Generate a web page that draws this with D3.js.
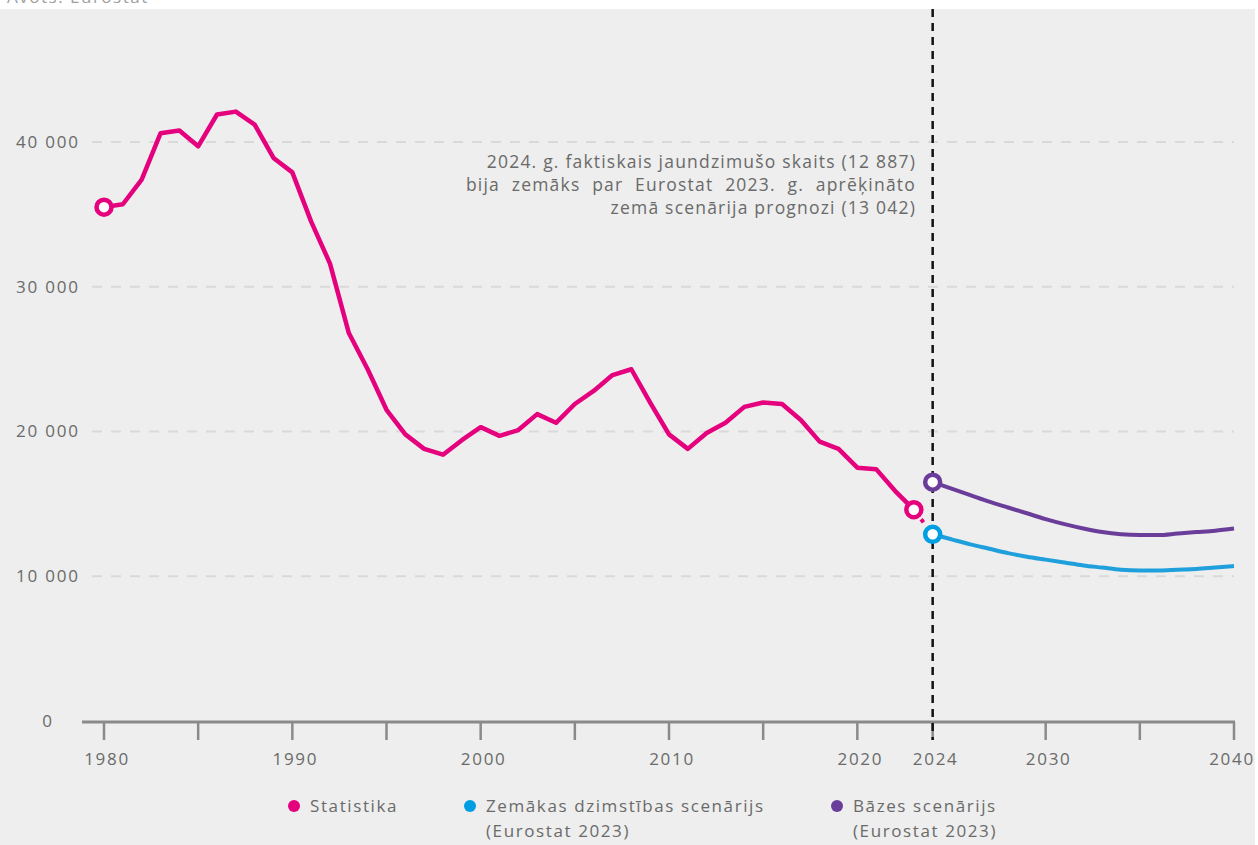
<!DOCTYPE html>
<html>
<head>
<meta charset="utf-8">
<script src="https://cdn.jsdelivr.net/npm/d3@7"></script>
<style>
  body { margin: 0; background: #fff; }
  svg { display: block; font-family: "Open Sans", sans-serif; }
</style>
</head>
<body>
<div id="chart"></div>
<script>
// Statistika 1980-2023
const statYears = d3.range(1980, 2024);
const statValues = [
    35500, 35700, 37400, 40600, 40800, 39700, 41900, 42100, 41200, 38900,
    37900, 34500, 31600, 26800, 24300, 21500, 19800, 18800, 18400, 19400,
    20300, 19700, 20100, 21200, 20600, 21900, 22800, 23900, 24300, 22000,
    19800, 18800, 19900, 20600, 21700, 22000, 21900, 20800, 19300, 18800,
    17500, 17400, 15900, 14600
];
const actual2024 = 12887;

// Eurostat 2023 projections, 2024-2040
const projYears = d3.range(2024, 2041);
const lowValues = [
    12900, 12550, 12200, 11900, 11600, 11350, 11150, 10950, 10750, 10600,
    10450, 10400, 10400, 10450, 10500, 10600, 10700
];
const baseValues = [
    16500, 16050, 15600, 15150, 14750, 14350, 13950, 13600, 13300, 13050,
    12900, 12850, 12850, 12950, 13050, 13150, 13300
];

const yTicks = [0, 10000, 20000, 30000, 40000];
const xTicks = [1980, 1985, 1990, 1995, 2000, 2005, 2010, 2015, 2020, 2024, 2030, 2035, 2040];
const xLabels = [1980, 1990, 2000, 2010, 2020, 2024, 2030, 2040];

const noteLines = [
    '2024. g. faktiskais jaundzimušo skaits (12 887)',
    'bija zemāks par Eurostat 2023. g. aprēķināto',
    'zemā scenārija prognozi (13 042)'
];

const legendItems = [
    { label: ['Statistika'], color: '#e5007d' },
    { label: ['Zemākas dzimstības scenārijs', '(Eurostat 2023)'], color: '#009fe3' },
    { label: ['Bāzes scenārijs', '(Eurostat 2023)'], color: '#6b3d9a' }
];

const width = 1258, height = 845;
const pink = '#e5007d', blue = '#1f9fdb', purple = '#6b3d9a';
const textGray = '#6a6a6a';

const svg = d3.select('#chart').append('svg')
    .attr('width', width)
    .attr('height', height);

// background panel
svg.append('rect')
    .attr('x', 0).attr('y', 9)
    .attr('width', 1255).attr('height', height - 9)
    .attr('fill', '#edeeed');

svg.append('text')
    .attr('x', 7).attr('y', 3)
    .attr('font-size', 17)
    .attr('letter-spacing', 1.5)
    .attr('fill', '#a0a0a0')
    .text('Avots: Eurostat');

const x = d3.scaleLinear().domain([1980, 2040]).range([104, 1234]);
const y = d3.scaleLinear().domain([0, 40000]).range([721, 142]);

// gridlines
svg.append('g')
    .selectAll('line')
    .data(yTicks.filter(d => d > 0))
    .join('line')
    .attr('x1', 92).attr('x2', 1234)
    .attr('y1', d => y(d)).attr('y2', d => y(d))
    .attr('stroke', '#d9d9d9')
    .attr('stroke-width', 2)
    .attr('stroke-dasharray', '10,9');

// y labels
svg.append('g')
    .selectAll('text')
    .data(yTicks)
    .join('text')
    .attr('x', 48)
    .attr('y', d => y(d))
    .attr('dy', '0.35em')
    .attr('text-anchor', 'middle')
    .attr('font-size', 17)
    .attr('letter-spacing', 1.8)
    .attr('fill', textGray)
    .text(d => d === 0 ? '0' : d3.format(',')(d).replace(',', ' '));

// x axis
const xAxis = svg.append('g');
xAxis.append('line')
    .attr('x1', 82).attr('x2', 1235)
    .attr('y1', 722).attr('y2', 722)
    .attr('stroke', '#8a8a8a')
    .attr('stroke-width', 3);
xAxis.selectAll('.tick')
    .data(xTicks)
    .join('line')
    .attr('class', 'tick')
    .attr('x1', d => x(d)).attr('x2', d => x(d))
    .attr('y1', 722).attr('y2', 740)
    .attr('stroke', '#8a8a8a')
    .attr('stroke-width', 2.5);
xAxis.selectAll('.lbl')
    .data(xLabels)
    .join('text')
    .attr('class', 'lbl')
    .attr('x', d => x(d) + (d === 2040 ? -2 : 3))
    .attr('y', 759)
    .attr('dy', '0.35em')
    .attr('text-anchor', 'middle')
    .attr('font-size', 17)
    .attr('letter-spacing', 1.7)
    .attr('fill', textGray)
    .text(d => d);

// vertical dashed 2024 line
svg.append('line')
    .attr('x1', x(2024)).attr('x2', x(2024))
    .attr('y1', 9).attr('y2', 740)
    .attr('stroke', '#111')
    .attr('stroke-width', 2.5)
    .attr('stroke-dasharray', '8,6');

// annotation
svg.append('g')
    .selectAll('text')
    .data(noteLines)
    .join('text')
    .attr('x', 916)
    .attr('y', (d, i) => 168 + i * 23)
    .attr('text-anchor', 'end')
    .attr('font-size', 17.5)
    .attr('letter-spacing', 1.2)
    .attr('word-spacing', (d, i) => i === 1 ? 6 : 0)
    .attr('fill', textGray)
    .text(d => d);

const line = d3.line()
    .x(d => x(d[0]))
    .y(d => y(d[1]));
const smooth = d3.line()
    .x(d => x(d[0]))
    .y(d => y(d[1]))
    .curve(d3.curveMonotoneX);

const statData = statYears.map((yr, i) => [yr, statValues[i]]);
const lowData = projYears.map((yr, i) => [yr, lowValues[i]]);
const baseData = projYears.map((yr, i) => [yr, baseValues[i]]);
const lastStat = statData[statData.length - 1];

// dotted link 2023 -> 2024 actual
svg.append('path')
    .datum([lastStat, [2024, actual2024]])
    .attr('d', line)
    .attr('fill', 'none')
    .attr('stroke', pink)
    .attr('stroke-width', 4)
    .attr('stroke-dasharray', '4,6')
    .attr('stroke-dashoffset', -12);

svg.append('path')
    .datum(statData)
    .attr('d', line)
    .attr('fill', 'none')
    .attr('stroke', pink)
    .attr('stroke-width', 4.5)
    .attr('stroke-linejoin', 'round');

svg.append('path')
    .datum(lowData)
    .attr('d', smooth)
    .attr('fill', 'none')
    .attr('stroke', blue)
    .attr('stroke-width', 4);

svg.append('path')
    .datum(baseData)
    .attr('d', smooth)
    .attr('fill', 'none')
    .attr('stroke', purple)
    .attr('stroke-width', 4);

// end markers
const markers = [
    { p: statData[0], c: pink },
    { p: lastStat, c: pink },
    { p: lowData[0], c: '#009fe3' },
    { p: baseData[0], c: purple }
];
svg.append('g')
    .selectAll('circle')
    .data(markers)
    .join('circle')
    .attr('cx', d => x(d.p[0]))
    .attr('cy', d => y(d.p[1]))
    .attr('r', 7.5)
    .attr('fill', '#fff')
    .attr('stroke', d => d.c)
    .attr('stroke-width', 4.5);

// legend
const legendX = [294, 470, 837];
const legend = svg.append('g')
    .selectAll('g')
    .data(legendItems)
    .join('g')
    .attr('transform', (d, i) => `translate(${legendX[i]},806)`);
legend.append('circle')
    .attr('r', 6)
    .attr('fill', d => d.color);
legend.each(function (d) {
    d3.select(this).selectAll('text')
        .data(d.label)
        .join('text')
        .attr('x', 16)
        .attr('y', (t, i) => i * 25)
        .attr('dy', '0.35em')
        .attr('font-size', 17)
        .attr('letter-spacing', 1.6)
        .attr('fill', textGray)
        .text(t => t);
});
</script>
</body>
</html>
